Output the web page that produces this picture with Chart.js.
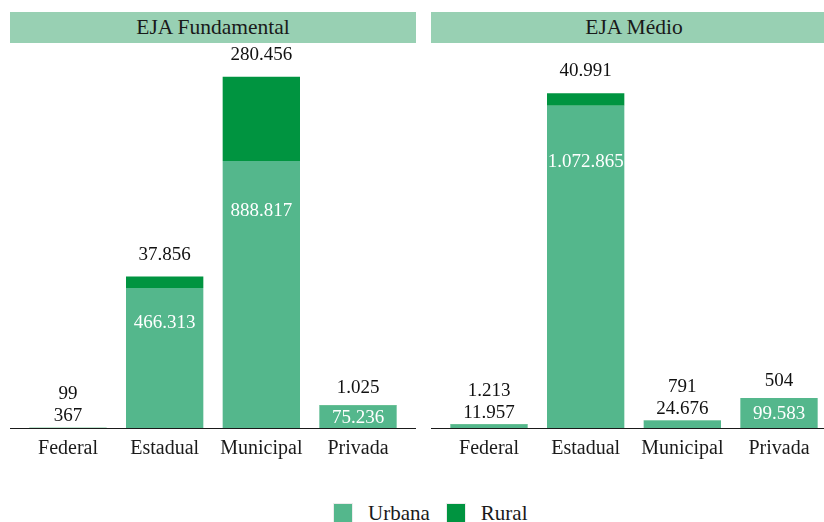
<!DOCTYPE html>
<html lang="pt-BR">
<head>
<meta charset="utf-8">
<script src="https://cdn.jsdelivr.net/npm/chart.js@4/dist/chart.umd.min.js"></script>
<style>
  html, body { margin: 0; padding: 0; width: 824px; height: 522px; overflow: hidden; background: #fff; }
  body { position: relative; font-family: "Liberation Serif", "Times New Roman", serif; }
  .panel { position: absolute; top: 12px; width: 406px; }
  .strip { height: 31px; line-height: 31px; background: #98d0b3; color: #1a1a1a; text-align: center; font-size: 21.5px; }
  .plot { position: relative; width: 406px; height: 427px; }
  .legend { position: absolute; top: 503px; left: 333px; display: flex; align-items: center; font-size: 21px; color: #1a1a1a; }
  .key { width: 18px; height: 18px; border: 1px solid #ececec; margin-right: 15px; }
  .legend span.lbl { margin-right: 16px; line-height: 19px; }
</style>
</head>
<body>
<div class="panel" style="left:10px">
  <div class="strip">EJA Fundamental</div>
  <div class="plot"><canvas id="chartFund"></canvas></div>
</div>
<div class="panel" style="left:431px">
  <div class="strip">EJA Médio</div>
  <div class="plot"><canvas id="chartMedio"></canvas></div>
</div>
<div class="legend">
  <div class="key" style="background:#54b78c"></div><span class="lbl">Urbana</span>
  <div class="key" style="background:#009440"></div><span class="lbl">Rural</span>
</div>

<script>
// ── Data ──
const categorias = ['Federal', 'Estadual', 'Municipal', 'Privada'];
const fundUrbana = [367, 466313, 888817, 75236];
const fundRural = [99, 37856, 280456, 1025];
const medioUrbana = [11957, 1072865, 24676, 99583];
const medioRural = [1213, 40991, 791, 504];

const COR_URBANA = '#54b78c';
const COR_RURAL = '#009440';
const FONTE = '"Liberation Serif", "Times New Roman", serif';

// shared y scale for both panels (like facet_wrap)
const maxTotal = Math.max(
  ...fundUrbana.map((v, i) => v + fundRural[i]),
  ...medioUrbana.map((v, i) => v + medioRural[i])
);
const yMax = maxTotal * 1.096;

function fmt(n) {
  return String(n).replace(/\B(?=(\d{3})+(?!\d))/g, '.');
}

// ── Value labels: urbana inside the bar (or above if too short), rural above ──
const valueLabels = {
  id: 'valueLabels',
  afterDatasetsDraw(chart) {
    const ctx = chart.ctx;
    const urb = chart.getDatasetMeta(0).data;
    const rur = chart.getDatasetMeta(1).data;
    const uVals = chart.data.datasets[0].data;
    const rVals = chart.data.datasets[1].data;
    ctx.save();
    ctx.font = '19px ' + FONTE;
    ctx.textAlign = 'center';
    ctx.textBaseline = 'middle';
    urb.forEach((bar, i) => {
      const h = bar.base - bar.y;
      let yU;
      if (h > 18) {
        yU = bar.y + Math.min(h / 2, 18 + 0.115 * h);
        ctx.fillStyle = '#ffffff';
      } else {
        yU = bar.y - 12.5;
        ctx.fillStyle = '#111';
      }
      ctx.fillText(fmt(uVals[i].y), bar.x, yU + 1);

      const top = rur[i].y;
      let yR = top - (h > 60 ? 23 : 18);
      if (h <= 18) yR = Math.min(yR, yU - 22);
      ctx.fillStyle = '#111';
      ctx.fillText(fmt(rVals[i].y), rur[i].x, yR + 1);
    });
    ctx.restore();
  }
};

function makeChart(id, urbana, rural) {
  const ctx = document.getElementById(id).getContext('2d');
  return new Chart(ctx, {
    type: 'bar',
    data: {
      datasets: [
        { label: 'Urbana', data: urbana.map((v, i) => ({ x: i + 1, y: v })), backgroundColor: COR_URBANA, borderWidth: 0 },
        { label: 'Rural', data: rural.map((v, i) => ({ x: i + 1, y: v })), backgroundColor: COR_RURAL, borderWidth: 0 }
      ]
    },
    options: {
      responsive: true,
      maintainAspectRatio: false,
      animation: false,
      barPercentage: 0.8,
      categoryPercentage: 1,
      layout: { padding: 0 },
      plugins: { legend: { display: false }, tooltip: { enabled: false } },
      scales: {
        x: {
          type: 'linear',
          stacked: true,
          offset: false,
          min: 0.4,
          max: 4.6,
          afterBuildTicks: scale => { scale.ticks = categorias.map((c, i) => ({ value: i + 1 })); },
          grid: { display: false, drawTicks: false },
          border: { display: true, color: '#1a1a1a', width: 1 },
          ticks: {
            autoSkip: false,
            maxRotation: 0,
            padding: 9,
            color: '#1a1a1a',
            font: { family: FONTE, size: 20 },
            callback: v => categorias[v - 1] || ''
          }
        },
        y: { stacked: true, display: false, min: 0, max: yMax }
      }
    },
    plugins: [valueLabels]
  });
}

makeChart('chartFund', fundUrbana, fundRural);
makeChart('chartMedio', medioUrbana, medioRural);
</script>
</body>
</html>
